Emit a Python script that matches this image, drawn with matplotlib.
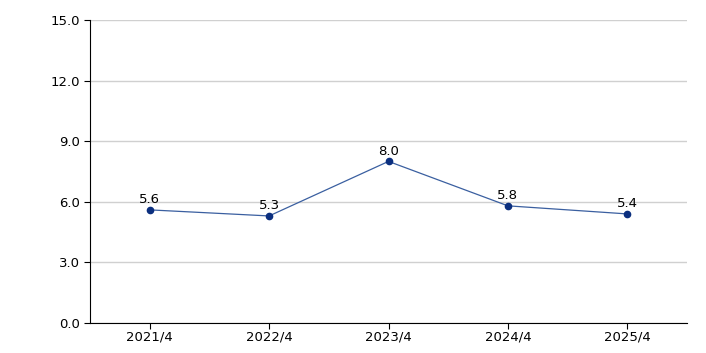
import numpy as np
import matplotlib.pyplot as plt

categories = ['2021/4', '2022/4', '2023/4', '2024/4', '2025/4']
values = [5.6, 5.3, 8.0, 5.8, 5.4]
yticks = [0.0, 3.0, 6.0, 9.0, 12.0, 15.0]

fig = plt.figure(figsize=(7.06, 3.53), dpi=100)
ax = fig.add_axes([90 / 706, 1 - 323 / 353, 597 / 706, 303 / 353])

x = np.arange(len(categories))
ax.plot(x, values, color='#3a5fa0', linewidth=0.9, marker='o', markersize=4.5,
        markerfacecolor='#0b2f7f', markeredgecolor='#0b2f7f', zorder=3)
for xi, v in zip(x, values):
    ax.annotate(f'{v:.1f}', (xi, v), xytext=(0, 2.5), textcoords='offset points',
                ha='center', va='bottom', fontsize=9.5, color='#000000')

ax.set_xlim(-0.5, len(categories) - 0.5)
ax.set_ylim(0, 15)
ax.set_xticks(x)
ax.set_xticklabels(categories, fontsize=9.5)
ax.set_yticks(yticks)
ax.set_yticklabels([f'{t:.1f}' for t in yticks], fontsize=9.5)
ax.grid(axis='y', color='#d0d0d0', linewidth=1)
ax.set_axisbelow(True)
for s in ['top', 'right']:
    ax.spines[s].set_visible(False)
ax.spines['left'].set_color('#000000')
ax.spines['bottom'].set_color('#000000')
ax.tick_params(axis='y', length=4, width=0.8, pad=3)
ax.tick_params(axis='x', length=4, width=0.8, pad=1.5)

fig.savefig('out.png', dpi=100)
